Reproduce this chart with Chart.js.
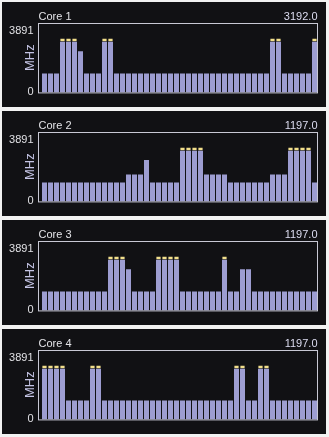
<!DOCTYPE html>
<html>
<head>
<meta charset="utf-8">
<script src="https://cdn.jsdelivr.net/npm/chart.js@4.4.1/dist/chart.umd.min.js"></script>
<style>
  body {
    margin: 0;
    background: #f2f2f2;
    width: 329px;
    height: 437px;
    overflow: hidden;
  }
  .panel {
    position: absolute;
    left: 2px;
    width: 324px;
    height: 105px;
    background: #111114;
  }
</style>
</head>
<body>
<div class="panel" style="top: 2px"><canvas id="core1Chart" width="324" height="105"></canvas></div>
<div class="panel" style="top: 111px"><canvas id="core2Chart" width="324" height="105"></canvas></div>
<div class="panel" style="top: 220px"><canvas id="core3Chart" width="324" height="105"></canvas></div>
<div class="panel" style="top: 329px"><canvas id="core4Chart" width="324" height="105"></canvas></div>
<script>
const coreNames = ["Core 1", "Core 2", "Core 3", "Core 4"];
const yTicks = [0, 3891];
const turboMHz = 3192;

// one value per sample, oldest first (MHz)
const core1 = [
  1197, 1197, 1197, 3192, 3192, 3192, 2600, 1197, 1197, 1197,
  3192, 3192, 1197, 1197, 1197, 1197, 1197, 1197, 1197, 1197,
  1197, 1197, 1197, 1197, 1197, 1197, 1197, 1197, 1197, 1197,
  1197, 1197, 1197, 1197, 1197, 1197, 1197, 1197, 3192, 3192,
  1197, 1197, 1197, 1197, 1197, 3192,
];
const core2 = [
  1197, 1197, 1197, 1197, 1197, 1197, 1197, 1197, 1197, 1197,
  1197, 1197, 1197, 1197, 1700, 1700, 1700, 2620, 1197, 1197,
  1197, 1197, 1197, 3192, 3192, 3192, 3192, 1700, 1700, 1700,
  1700, 1197, 1197, 1197, 1197, 1197, 1197, 1197, 1700, 1700,
  1700, 3192, 3192, 3192, 3192, 1197,
];
const core3 = [
  1197, 1197, 1197, 1197, 1197, 1197, 1197, 1197, 1197, 1197,
  1197, 3192, 3192, 3192, 2600, 1197, 1197, 1197, 1197, 3192,
  3192, 3192, 3192, 1197, 1197, 1197, 1197, 1197, 1197, 1197,
  3192, 1197, 1197, 2600, 2600, 1197, 1197, 1197, 1197, 1197,
  1197, 1197, 1197, 1197, 1197, 1197,
];
const core4 = [
  3192, 3192, 3192, 3192, 1197, 1197, 1197, 1197, 3192, 3192,
  1197, 1197, 1197, 1197, 1197, 1197, 1197, 1197, 1197, 1197,
  1197, 1197, 1197, 1197, 1197, 1197, 1197, 1197, 1197, 1197,
  1197, 1197, 3192, 3192, 1197, 1197, 3192, 3192, 1197, 1197,
  1197, 1197, 1197, 1197, 1197, 1197,
];
const samples = core1.map((v, i) => i + 1);

const panelDecor = {
  id: "panelDecor",
  afterDatasetsDraw(chart, args, opts) {
    const { ctx, chartArea } = chart;
    ctx.save();
    ctx.strokeStyle = "#c8c8d4";
    ctx.lineWidth = 1;
    ctx.strokeRect(
      chartArea.left - 3,
      chartArea.top + 0.5,
      chartArea.right - chartArea.left + 3,
      chartArea.bottom - chartArea.top
    );
    ctx.font = "11px 'Liberation Sans', Arial, sans-serif";
    ctx.textBaseline = "alphabetic";
    ctx.fillStyle = "#e4e4e8";
    ctx.textAlign = "left";
    ctx.fillText(opts.title, chartArea.left - 3, 18);
    ctx.fillStyle = "#dcdcf0";
    ctx.textAlign = "right";
    ctx.fillText(opts.value, chartArea.right, 17.5);
    ctx.restore();
  },
};

function coreChart(canvasId, name, values) {
  const el = document.getElementById(canvasId);
  const caps = values.map((v) => (v >= turboMHz ? [v + 35, v + 195] : null));
  return new Chart(el, {
    type: "bar",
    data: {
      labels: samples,
      datasets: [
        {
          data: values,
          backgroundColor: "#9d9dd1",
          borderWidth: 0,
          barPercentage: 5 / 6,
          categoryPercentage: 1,
          grouped: false,
        },
        {
          data: caps,
          backgroundColor: "#f2df8c",
          borderWidth: 0,
          barPercentage: 0.7,
          categoryPercentage: 1,
          grouped: false,
        },
      ],
    },
    options: {
      responsive: false,
      animation: false,
      devicePixelRatio: 1,
      events: [],
      layout: {
        padding: { left: 0, right: 8.5, top: 21, bottom: 9 },
      },
      plugins: {
        legend: { display: false },
        tooltip: { enabled: false },
        title: { display: false },
        panelDecor: {
          title: name,
          value: values[values.length - 1].toFixed(1),
        },
      },
      scales: {
        x: {
          display: false,
          offset: true,
        },
        y: {
          min: 0,
          max: 4380,
          afterBuildTicks: (scale) => {
            scale.ticks = yTicks.map((v) => ({ value: v }));
          },
          afterFit: (scale) => {
            scale.width = 39.5;
          },
          grid: { display: false, drawTicks: false },
          border: { display: false },
          ticks: {
            color: "#e0e0e4",
            padding: 8,
            callback: (value) => String(value),
            font: { family: "'Liberation Sans', Arial, sans-serif", size: 11 },
          },
          title: {
            display: true,
            text: "MHz",
            color: "#c4c4e4",
            padding: { top: 21, bottom: 0 },
            font: { family: "'Liberation Sans', Arial, sans-serif", size: 13 },
          },
        },
      },
    },
    plugins: [panelDecor],
  });
}

coreChart("core1Chart", coreNames[0], core1);
coreChart("core2Chart", coreNames[1], core2);
coreChart("core3Chart", coreNames[2], core3);
coreChart("core4Chart", coreNames[3], core4);
</script>
</body>
</html>
